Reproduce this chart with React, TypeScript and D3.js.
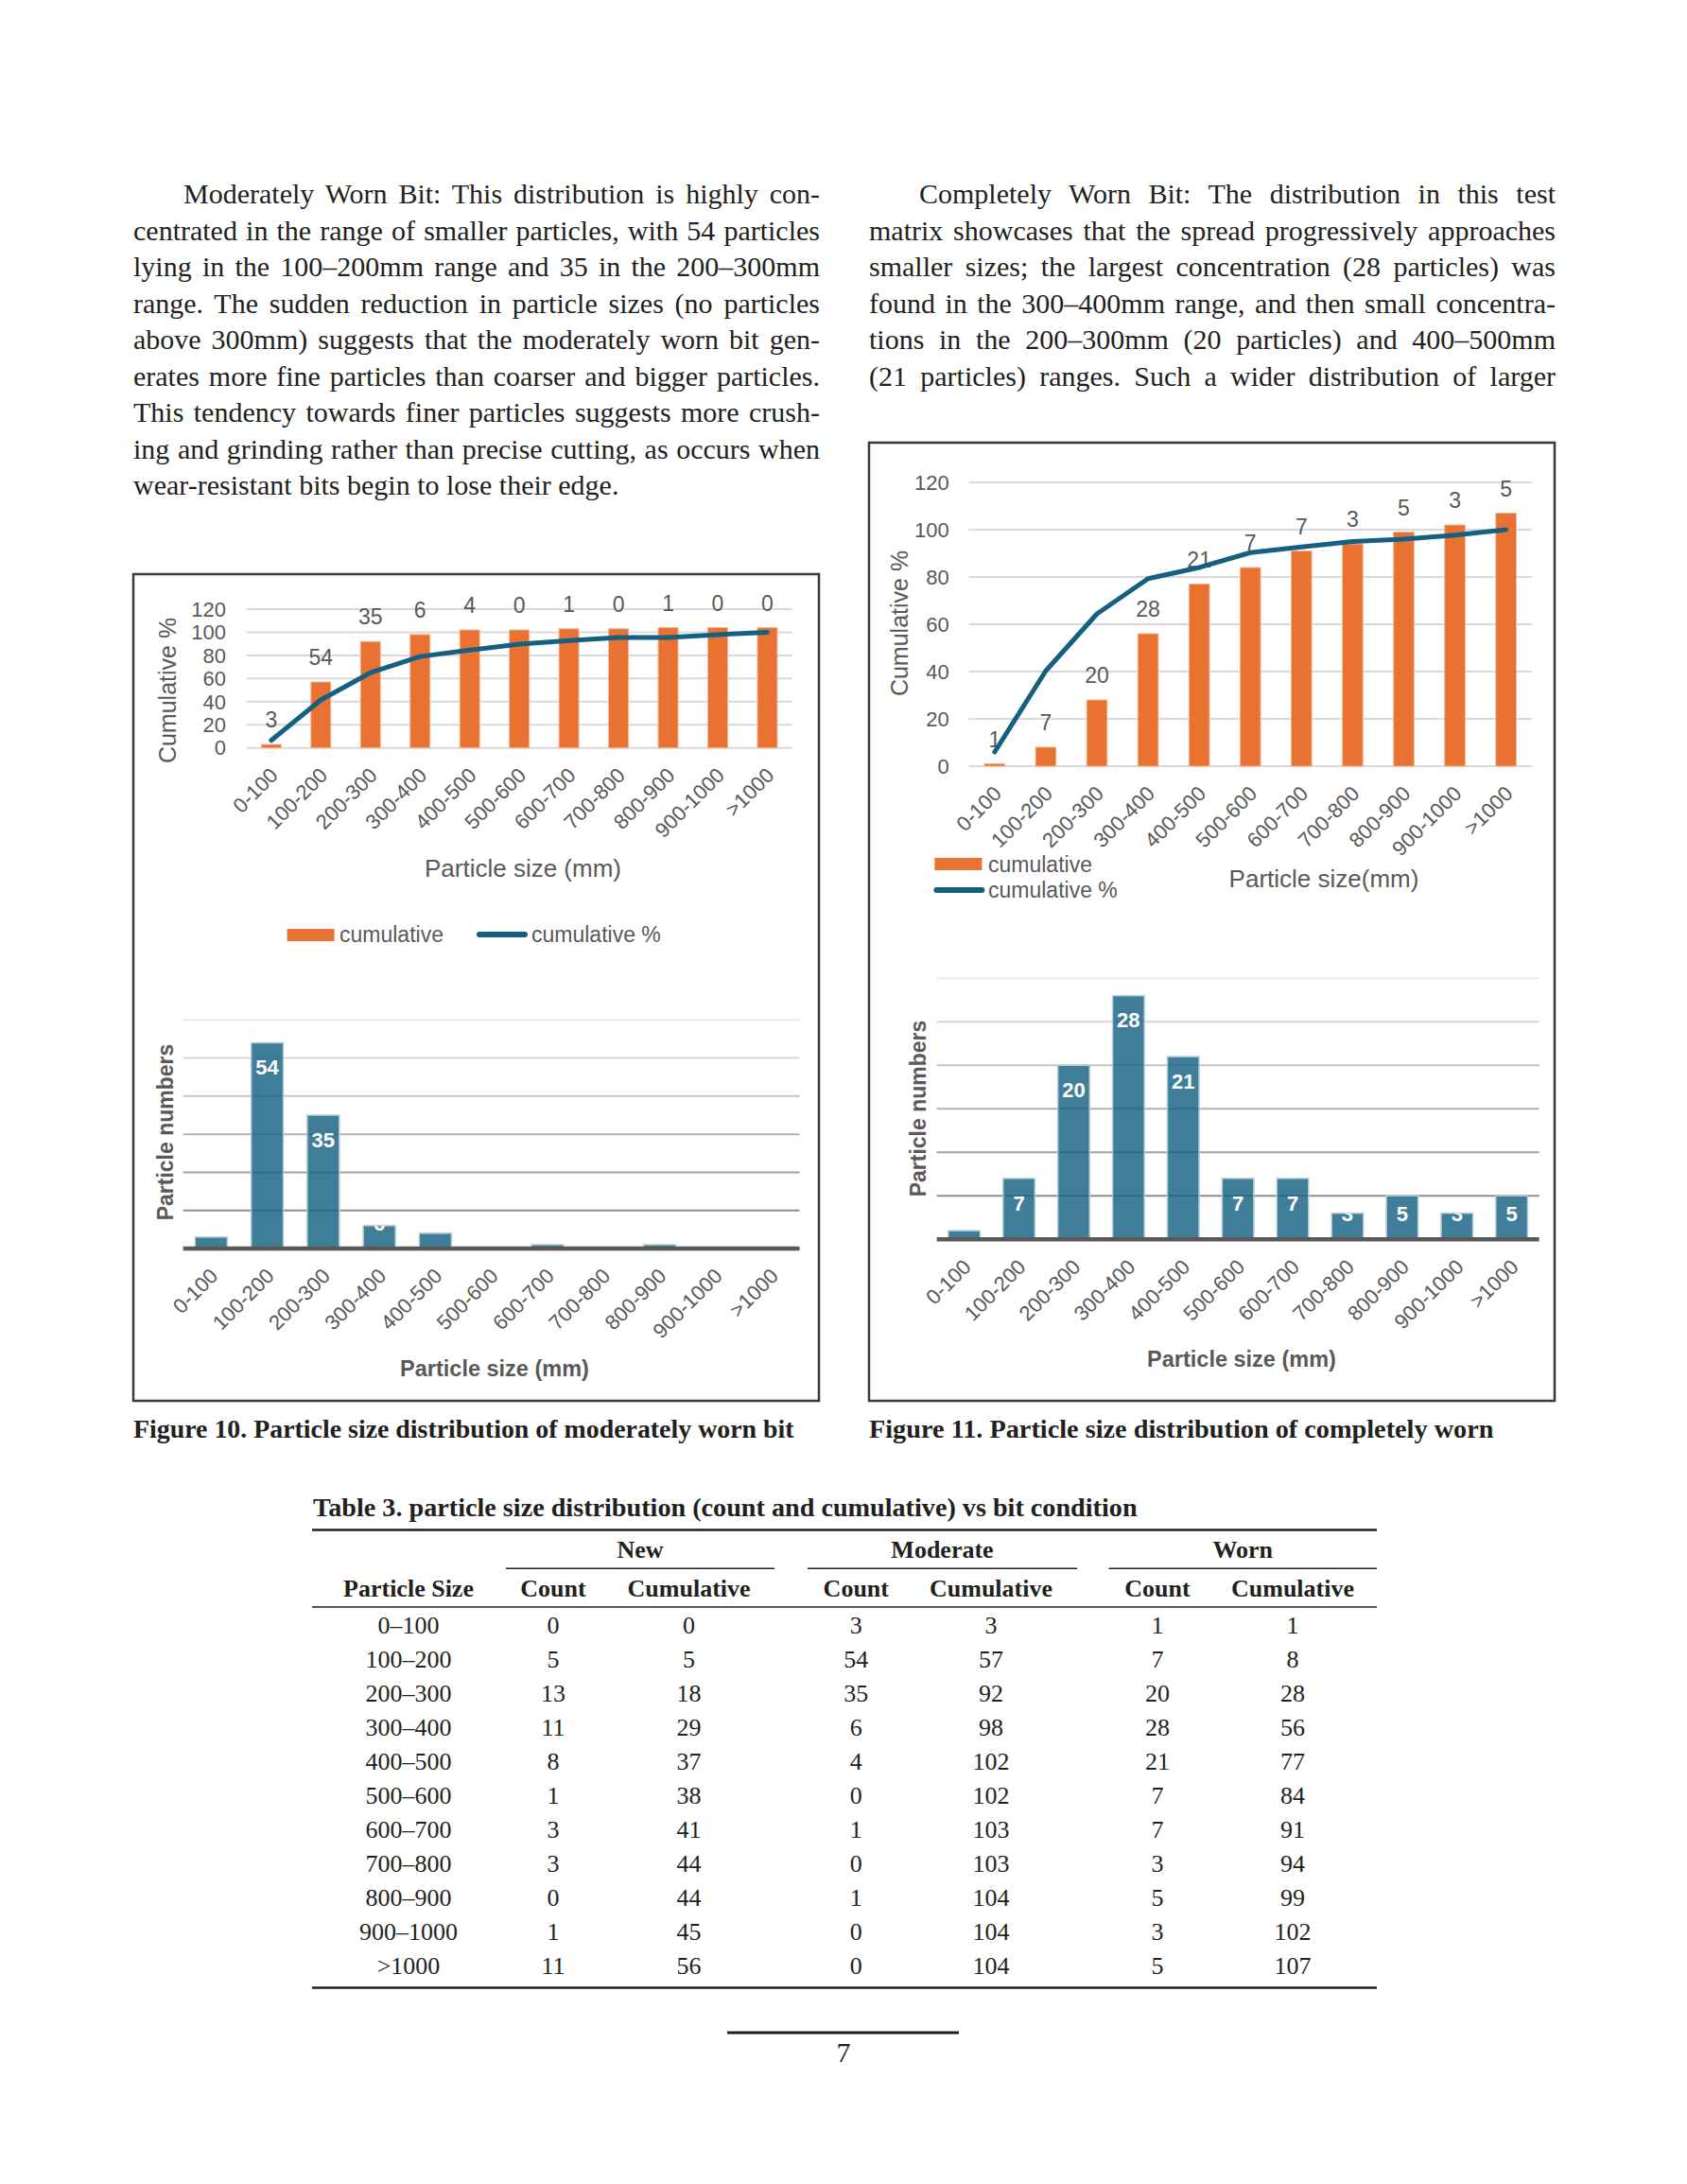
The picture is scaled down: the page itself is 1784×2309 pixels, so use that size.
import { useEffect, useRef } from "react";
import * as d3 from "d3";

// ---- data read from the page ----
const sizeBins = ["0-100", "100-200", "200-300", "300-400", "400-500", "500-600", "600-700", "700-800", "800-900", "900-1000", ">1000"];
const tableSizes = ["0–100", "100–200", "200–300", "300–400", "400–500", "500–600", "600–700", "700–800", "800–900", "900–1000", ">1000"];

const newCount = [0, 5, 13, 11, 8, 1, 3, 3, 0, 1, 11];
const newCumulative = [0, 5, 18, 29, 37, 38, 41, 44, 44, 45, 56];
const moderateCount = [3, 54, 35, 6, 4, 0, 1, 0, 1, 0, 0];
const moderateCumulative = [3, 57, 92, 98, 102, 102, 103, 103, 104, 104, 104];
const moderateCumPct = [6.5, 41.5, 65, 79, 84.6, 89.8, 92.8, 95.5, 95.5, 98, 100];
const wornCount = [1, 7, 20, 28, 21, 7, 7, 3, 5, 3, 5];
const wornCumulative = [1, 8, 28, 56, 77, 84, 91, 94, 99, 102, 107];
const wornCumPct = [6, 40.3, 64.4, 79.3, 84, 90.3, 92.7, 95, 96, 97.7, 100];

const cumTicks = [0, 20, 40, 60, 80, 100, 120];
const moderateCountTicks = [10, 20, 30, 40, 50, 60];
const wornCountTicks = [5, 10, 15, 20, 25, 30];

const leftText = [
  "Moderately Worn Bit: This distribution is highly con-",
  "centrated in the range of smaller particles, with 54 particles",
  "lying in the 100–200mm range and 35 in the 200–300mm",
  "range. The sudden reduction in particle sizes (no particles",
  "above 300mm) suggests that the moderately worn bit gen-",
  "erates more fine particles than coarser and bigger particles.",
  "This tendency towards finer particles suggests more crush-",
  "ing and grinding rather than precise cutting, as occurs when",
  "wear-resistant bits begin to lose their edge.",
];
const rightText = [
  "Completely Worn Bit: The distribution in this test",
  "matrix showcases that the spread progressively approaches",
  "smaller sizes; the largest concentration (28 particles) was",
  "found in the 300–400mm range, and then small concentra-",
  "tions in the 200–300mm (20 particles) and 400–500mm",
  "(21 particles) ranges. Such a wider distribution of larger",
];

const SERIF = "'Liberation Serif', 'Times New Roman', serif";
const SANS = "'Liberation Sans', Arial, sans-serif";
const GRAY = "#595959";
const INK = "#231f20";
const ORANGE = "#E97132";
const BLUE = "#156082";

type G = d3.Selection<SVGGElement, unknown, null, undefined>;

function justify(sel: d3.Selection<SVGTextElement, unknown, null, undefined>, target: number) {
  const node = sel.node();
  if (!node) return;
  const len = node.getComputedTextLength();
  const spaces = (node.textContent || "").split(" ").length - 1;
  if (spaces > 0) sel.style("word-spacing", `${(target - len) / spaces}px`);
}

function fitText(sel: d3.Selection<SVGTextElement, unknown, null, undefined>, base: number, target: number) {
  const node = sel.node();
  if (!node) return;
  const len = node.getComputedTextLength();
  sel.attr("font-size", (base * target) / len);
}

interface ComboCfg {
  left: number; right: number; top: number; bottom: number;
  tickX: number; yTitle: [number, number]; xTitle: string; xTitlePos: [number, number];
  legendRect: [number, number]; legendLine: [number, number]; legendText1: [number, number]; legendText2: [number, number];
}

function comboChart(g: G, c: ComboCfg, cum: number[], counts: number[], pct: number[]) {
  const x = d3.scaleBand<string>().domain(sizeBins).range([c.left, c.right]);
  const y = d3.scaleLinear().domain([0, 120]).range([c.bottom, c.top]);
  const cx = (d: string) => (x(d) ?? 0) + x.bandwidth() / 2;
  const bw = x.bandwidth() * 0.4;

  g.selectAll(null).data(cumTicks).join("line")
    .attr("x1", c.left).attr("x2", c.right)
    .attr("y1", d => y(d)).attr("y2", d => y(d))
    .attr("stroke", "#d9d9d9").attr("stroke-width", 2);

  g.selectAll(null).data(cumTicks).join("text")
    .attr("x", c.tickX).attr("y", d => y(d)).attr("dy", "0.35em")
    .attr("text-anchor", "end").attr("font-family", SANS).attr("font-size", 22).attr("fill", GRAY)
    .text(d => d);

  g.selectAll(null).data(sizeBins).join("rect")
    .attr("x", d => cx(d) - bw / 2).attr("width", bw)
    .attr("y", (_, i) => y(cum[i])).attr("height", (_, i) => c.bottom - y(cum[i]))
    .attr("fill", ORANGE).attr("stroke", "#f4b791").attr("stroke-width", 1);

  g.selectAll(null).data(sizeBins).join("text")
    .attr("x", d => cx(d)).attr("y", (_, i) => y(cum[i]) - 26).attr("dy", "0.35em")
    .attr("text-anchor", "middle").attr("font-family", SANS).attr("font-size", 23).attr("fill", GRAY)
    .text((_, i) => counts[i]);

  const line = d3.line<number>().x((_, i) => cx(sizeBins[i])).y(d => y(d));
  g.append("path").datum(pct).attr("d", line).attr("fill", "none")
    .attr("stroke", BLUE).attr("stroke-width", 5).attr("stroke-linejoin", "round").attr("stroke-linecap", "round");

  g.selectAll(null).data(sizeBins).join("text")
    .attr("transform", d => `translate(${cx(d) + 3},${c.bottom + 25}) rotate(-45)`)
    .attr("dy", "0.35em").attr("text-anchor", "end")
    .attr("font-family", SANS).attr("font-size", 22).attr("fill", GRAY)
    .text(d => d);

  g.append("text")
    .attr("transform", `translate(${c.yTitle[0]},${c.yTitle[1]}) rotate(-90)`)
    .attr("dy", "0.35em").attr("text-anchor", "middle")
    .attr("font-family", SANS).attr("font-size", 25).attr("fill", GRAY)
    .text("Cumulative %");

  g.append("text")
    .attr("x", c.xTitlePos[0]).attr("y", c.xTitlePos[1]).attr("dy", "0.35em").attr("text-anchor", "middle")
    .attr("font-family", SANS).attr("font-size", 26).attr("fill", GRAY)
    .text(c.xTitle);

  // legend
  g.append("rect").attr("x", c.legendRect[0]).attr("y", c.legendRect[1]).attr("width", 50).attr("height", 13).attr("fill", ORANGE);
  g.append("line")
    .attr("x1", c.legendLine[0] + 3).attr("x2", c.legendLine[0] + 51).attr("y1", c.legendLine[1]).attr("y2", c.legendLine[1])
    .attr("stroke", BLUE).attr("stroke-width", 6).attr("stroke-linecap", "round");
  g.append("text").attr("x", c.legendText1[0]).attr("y", c.legendText1[1]).attr("dy", "0.35em")
    .attr("font-family", SANS).attr("font-size", 23).attr("fill", GRAY).text("cumulative");
  g.append("text").attr("x", c.legendText2[0]).attr("y", c.legendText2[1]).attr("dy", "0.35em")
    .attr("font-family", SANS).attr("font-size", 23).attr("fill", GRAY).text("cumulative %");
}

interface CountCfg {
  id: string; left: number; right: number; top: number; bottom: number; yMax: number; ticks: number[];
  barRatio: number; yTitle: [number, number]; xTitlePos: [number, number];
}

function countChart(g: G, c: CountCfg, counts: number[]) {
  const x = d3.scaleBand<string>().domain(sizeBins).range([c.left, c.right]);
  const y = d3.scaleLinear().domain([0, c.yMax]).range([c.bottom, c.top]);
  const cx = (d: string) => (x(d) ?? 0) + x.bandwidth() / 2;
  const bw = x.bandwidth() * c.barRatio;
  const shade = d3.interpolateRgb("#8e8e8e", "#e8e8e8");

  g.selectAll(null).data(c.ticks).join("line")
    .attr("x1", c.left).attr("x2", c.right)
    .attr("y1", d => y(d)).attr("y2", d => y(d))
    .attr("stroke", (_, i) => shade(i / (c.ticks.length - 1))).attr("stroke-width", 2);

  const defs = g.append("defs");
  sizeBins.forEach((d, i) => {
    defs.append("clipPath").attr("id", `${c.id}-clip-${i}`)
      .append("rect").attr("x", cx(d) - bw / 2).attr("width", bw)
      .attr("y", y(counts[i])).attr("height", c.bottom - y(counts[i]));
  });

  g.selectAll(null).data(sizeBins).join("rect")
    .attr("x", d => cx(d) - bw / 2).attr("width", bw)
    .attr("y", (_, i) => y(counts[i])).attr("height", (_, i) => c.bottom - y(counts[i]))
    .attr("fill", BLUE).attr("fill-opacity", 0.82)
    .attr("stroke", "#b4ccd8").attr("stroke-width", 1.5);

  // inside-end labels, white, clipped to the bar
  const labelled = sizeBins.map((d, i) => ({ d, i })).filter(({ i }) => {
    const top = y(counts[i]);
    const cy = Math.min(top + 26, c.bottom - 27);
    return counts[i] > 0 && cy + 9 > top;
  });
  g.selectAll(null).data(labelled).join("text")
    .attr("clip-path", o => `url(#${c.id}-clip-${o.i})`)
    .attr("x", o => cx(o.d)).attr("y", o => Math.min(y(counts[o.i]) + 26, c.bottom - 27)).attr("dy", "0.35em")
    .attr("text-anchor", "middle").attr("font-family", SANS).attr("font-weight", "bold").attr("font-size", 22).attr("fill", "#ffffff")
    .text(o => counts[o.i]);

  g.append("line").attr("x1", c.left).attr("x2", c.right).attr("y1", c.bottom).attr("y2", c.bottom)
    .attr("stroke", GRAY).attr("stroke-width", 4.5);

  g.selectAll(null).data(sizeBins).join("text")
    .attr("transform", d => `translate(${cx(d) + 3},${c.bottom + 25}) rotate(-45)`)
    .attr("dy", "0.35em").attr("text-anchor", "end")
    .attr("font-family", SANS).attr("font-size", 22).attr("fill", GRAY)
    .text(d => d);

  g.append("text")
    .attr("transform", `translate(${c.yTitle[0]},${c.yTitle[1]}) rotate(-90)`)
    .attr("dy", "0.35em").attr("text-anchor", "middle")
    .attr("font-family", SANS).attr("font-weight", "bold").attr("font-size", 23).attr("fill", GRAY)
    .text("Particle numbers");

  g.append("text")
    .attr("x", c.xTitlePos[0]).attr("y", c.xTitlePos[1]).attr("dy", "0.35em").attr("text-anchor", "middle")
    .attr("font-family", SANS).attr("font-weight", "bold").attr("font-size", 23.5).attr("fill", GRAY)
    .text("Particle size (mm)");
}

export default function App() {
  const svgRef = useRef<SVGSVGElement>(null);

  useEffect(() => {
    if (!svgRef.current) return;
    const svg = d3.select(svgRef.current);
    svg.selectAll("*").remove();
    const root = svg.append("g") as unknown as G;

    root.append("rect").attr("width", 1784).attr("height", 2309).attr("fill", "#ffffff");

    // ---- body text columns ----
    const lineStep = 38.5;
    const column = (lines: string[], left: number, right: number, lastJustified: boolean) => {
      lines.forEach((t, i) => {
        const indent = i === 0 ? 53 : 0;
        const sel = root.append("text")
          .attr("x", left + indent).attr("y", 215 + i * lineStep)
          .attr("font-family", SERIF).attr("font-size", 30).attr("fill", INK)
          .text(t);
        if (i < lines.length - 1 || lastJustified) justify(sel, right - left - indent);
      });
    };
    column(leftText, 141, 867, false);
    column(rightText, 919, 1645, true);

    // ---- figure frames ----
    root.append("rect").attr("x", 141).attr("y", 607).attr("width", 725).attr("height", 874)
      .attr("fill", "none").attr("stroke", "#3a3a3a").attr("stroke-width", 2.5);
    root.append("rect").attr("x", 919).attr("y", 468).attr("width", 725).attr("height", 1013)
      .attr("fill", "none").attr("stroke", "#3a3a3a").attr("stroke-width", 2.5);

    comboChart(root.append("g") as unknown as G, {
      left: 260.6, right: 837.7, top: 644, bottom: 790.7, tickX: 239,
      yTitle: [177, 730], xTitle: "Particle size (mm)", xTitlePos: [553, 918],
      legendRect: [303.6, 982], legendLine: [504, 988], legendText1: [359, 988], legendText2: [562, 988],
    }, moderateCumulative, moderateCount, moderateCumPct);

    countChart(root.append("g") as unknown as G, {
      id: "mod", left: 193.7, right: 845.6, top: 1078.3, bottom: 1320, yMax: 60, ticks: moderateCountTicks,
      barRatio: 0.574, yTitle: [175, 1197], xTitlePos: [523, 1447],
    }, moderateCount);

    comboChart(root.append("g") as unknown as G, {
      left: 1024.8, right: 1619.7, top: 510, bottom: 810, tickX: 1003.8,
      yTitle: [951.4, 659], xTitle: "Particle size(mm)", xTitlePos: [1400, 929],
      legendRect: [988.4, 907], legendLine: [987.4, 941], legendText1: [1045, 913.5], legendText2: [1045, 941],
    }, wornCumulative, wornCount, wornCumPct);

    countChart(root.append("g") as unknown as G, {
      id: "worn", left: 990.7, right: 1627.6, top: 1034.3, bottom: 1310.3, yMax: 30, ticks: wornCountTicks,
      barRatio: 0.58, yTitle: [971, 1172], xTitlePos: [1313, 1437],
    }, wornCount);

    // ---- captions ----
    const cap1 = root.append("text").attr("x", 141).attr("y", 1520)
      .attr("font-family", SERIF).attr("font-weight", "bold").attr("font-size", 25).attr("fill", INK)
      .text("Figure 10. Particle size distribution of moderately worn bit");
    fitText(cap1, 25, 699);
    const cap2 = root.append("text").attr("x", 919).attr("y", 1520)
      .attr("font-family", SERIF).attr("font-weight", "bold").attr("font-size", 25).attr("fill", INK)
      .text("Figure 11. Particle size distribution of completely worn");
    fitText(cap2, 25, 661);

    // ---- table ----
    const tLeft = 330, tRight = 1456;
    const title = root.append("text").attr("x", 331).attr("y", 1603)
      .attr("font-family", SERIF).attr("font-weight", "bold").attr("font-size", 24).attr("fill", INK)
      .text("Table 3. particle size distribution (count and cumulative) vs bit condition");
    fitText(title, 24, 872);

    const rule = (x1: number, x2: number, yy: number, w: number) =>
      root.append("line").attr("x1", x1).attr("x2", x2).attr("y1", yy).attr("y2", yy).attr("stroke", INK).attr("stroke-width", w);
    rule(tLeft, tRight, 1617.5, 2.6);
    rule(tLeft, tRight, 1699, 1.4);
    rule(tLeft, tRight, 2101.5, 2.6);

    const groups = [
      { name: "New", x1: 535, x2: 819 },
      { name: "Moderate", x1: 854, x2: 1139 },
      { name: "Worn", x1: 1172.5, x2: tRight },
    ];
    groups.forEach(gr => {
      root.append("text").attr("x", (gr.x1 + gr.x2) / 2).attr("y", 1647).attr("text-anchor", "middle")
        .attr("font-family", SERIF).attr("font-weight", "bold").attr("font-size", 26).attr("fill", INK).text(gr.name);
      rule(gr.x1, gr.x2, 1658.3, 1.4);
    });

    const colX = [432, 585, 728.6, 905.3, 1048, 1224, 1367];
    const headers = ["Particle Size", "Count", "Cumulative", "Count", "Cumulative", "Count", "Cumulative"];
    headers.forEach((h, j) => {
      root.append("text").attr("x", colX[j]).attr("y", 1688.3).attr("text-anchor", "middle")
        .attr("font-family", SERIF).attr("font-weight", "bold").attr("font-size", 26).attr("fill", INK).text(h);
    });

    const rows = tableSizes.map((s, i) => [s, newCount[i], newCumulative[i], moderateCount[i], moderateCumulative[i], wornCount[i], wornCumulative[i]]);
    const rowY = d3.scaleLinear().domain([0, rows.length - 1]).range([1726.7, 2086.7]);
    rows.forEach((r, i) => {
      r.forEach((v, j) => {
        root.append("text").attr("x", colX[j]).attr("y", rowY(i)).attr("text-anchor", "middle")
          .attr("font-family", SERIF).attr("font-size", 26).attr("fill", INK).text(String(v));
      });
    });

    // ---- page number ----
    rule(769, 1014, 2149, 3);
    root.append("text").attr("x", 892).attr("y", 2180).attr("text-anchor", "middle")
      .attr("font-family", SERIF).attr("font-size", 30).attr("fill", INK).text("7");
  }, []);

  return (
    <svg
      ref={svgRef}
      width={1784}
      height={2309}
      viewBox="0 0 1784 2309"
      style={{ position: "absolute", left: 0, top: 0, display: "block" }}
    />
  );
}
